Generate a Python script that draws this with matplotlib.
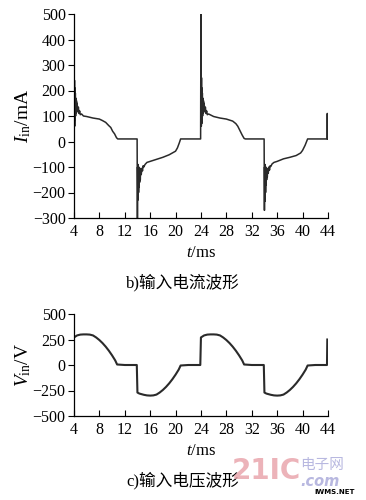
import matplotlib
matplotlib.use('Agg')
import matplotlib.pyplot as plt

# Input current waveform (ms, mA)
t_cur = [4.0, 4.03, 4.06, 4.09, 4.12, 4.15, 4.18, 4.22, 4.26, 4.3, 4.35, 4.4, 4.45,
         4.5, 4.6, 4.7, 4.8, 4.9, 5.0, 5.2,
         5.5, 6.0, 7.0, 8.0, 8.5, 9.0, 9.5, 9.8, 10.1, 10.4, 10.7, 10.9, 11.5,
         12.5, 13.5, 13.95,
         14.0, 14.03, 14.06, 14.09, 14.12, 14.15, 14.18, 14.22, 14.26, 14.3, 14.35,
         14.4, 14.45, 14.5, 14.6, 14.7, 14.8, 14.9, 15.0, 15.2,
         15.5, 16.0, 17.0, 18.0, 19.0, 19.5, 20.0, 20.3, 20.6, 20.8, 22.0, 23.95,
         24.0, 24.03, 24.06, 24.09, 24.12, 24.15, 24.18, 24.22, 24.26, 24.3, 24.35,
         24.4, 24.45, 24.5, 24.6, 24.7, 24.8, 24.9, 25.0, 25.2,
         26.0, 27.0, 28.0, 29.0, 29.5, 29.8, 30.2, 30.5, 30.8, 31.0, 33.95,
         34.0, 34.03, 34.06, 34.09, 34.12, 34.15, 34.18, 34.22, 34.26, 34.3, 34.35,
         34.4, 34.45, 34.5, 34.6, 34.7, 34.8, 34.9, 35.0, 35.2,
         35.5, 36.0, 37.0, 38.0, 39.0, 39.7, 40.0, 40.4, 40.8, 42.0, 43.85, 43.9,
         43.95]
i_cur = [160, 250, 80, 240, 60, 210, 90, 190, 100, 170, 110, 160, 115,
         150, 120, 135, 110, 120, 105, 108,
         100, 98, 92, 88, 82, 75, 62, 55, 40, 30, 15, 10, 10,
         10, 10, 10,
         -300, -100, -230, -90, -220, -110, -200, -100, -180, -110, -160,
         -105, -150, -110, -130, -105, -115, -95, -100, -90,
         -82, -78, -70, -62, -52, -45, -38, -25, -5, 10, 10, 10,
         500, 250, 60, 250, 70, 210, 90, 190, 100, 170, 110, 160, 115,
         150, 120, 135, 110, 120, 105, 108,
         98, 92, 88, 80, 70, 60, 40, 25, 12, 10, 10,
         -270, -100, -235, -90, -220, -110, -200, -100, -170, -110, -150,
         -105, -140, -110, -125, -100, -112, -95, -98, -88,
         -82, -78, -68, -62, -55, -45, -35, -15, 10, 10, 10, 110,
         10]

# Input voltage waveform (ms, V)
t_volt = [4.0, 4.5, 5.0, 5.5, 6.0, 6.5, 7.0, 7.5, 8.0, 8.5, 9.0, 9.5, 10.0, 10.5,
          10.8, 12.0, 13.9, 14.0, 14.3, 15.0, 15.5, 16.0, 16.5, 17.0, 17.5, 18.0,
          18.5, 19.0, 19.5, 20.0, 20.5, 20.8, 22.0, 23.9,
          24.0, 24.5, 25.0, 25.5, 26.0, 26.5, 27.0, 27.5, 28.0, 28.5, 29.0, 29.5,
          30.0, 30.5, 30.8, 32.0, 33.9, 34.0, 34.3, 35.0, 35.5, 36.0, 36.5, 37.0,
          37.5, 38.0, 38.5, 39.0, 39.5, 40.0, 40.5, 40.8, 42.0, 43.85, 43.9]
v_volt = [270, 290, 298, 300, 300, 298, 290, 270, 245, 215, 180, 140, 95, 45,
          5, 0, 0, -270, -280, -292, -298, -300, -298, -290, -270, -245,
          -215, -180, -140, -95, -45, -5, 0, 0,
          270, 290, 298, 300, 300, 298, 290, 270, 245, 215, 180, 140,
          95, 45, 5, 0, 0, -270, -280, -292, -298, -300, -298, -290,
          -270, -245, -215, -180, -140, -95, -45, -5, 0, 0, 250]

xticks = list(range(4, 45, 4))
yticks_cur = [-300, -200, -100, 0, 100, 200, 300, 400, 500]
yticks_volt = [-500, -250, 0, 250, 500]

plt.rcParams['font.family'] = ['Liberation Serif', 'Noto Sans CJK SC']
plt.rcParams['mathtext.fontset'] = 'custom'
plt.rcParams['mathtext.rm'] = 'Liberation Serif'
plt.rcParams['mathtext.it'] = 'Liberation Serif:italic'

fig = plt.figure(figsize=(3.66, 5.0), dpi=100)


def style(ax, yticks):
    for s in ['top', 'right']:
        ax.spines[s].set_visible(False)
    for s in ['left', 'bottom']:
        ax.spines[s].set_linewidth(0.9)
    ax.set_xlim(4, 44)
    ax.set_ylim(yticks[0], yticks[-1])
    ax.set_xticks(xticks)
    ax.set_yticks(yticks)
    ax.tick_params(axis='x', direction='in', length=4, width=0.8, labelsize=11.5, pad=4)
    ax.tick_params(axis='y', direction='out', length=4, width=0.8, labelsize=11.5, pad=2)
    ax.set_xlabel(r'$t$/ms', fontsize=12, labelpad=4)


ax1 = fig.add_axes([0.202, 0.564, 0.694, 0.408])
ax1.plot(t_cur, i_cur, color='#2a2a2a', lw=1.1)
style(ax1, yticks_cur)
ax1.set_ylabel(r'$I_{\rm in}$/mA', fontsize=14, labelpad=0)

ax2 = fig.add_axes([0.202, 0.168, 0.694, 0.204])
ax2.plot(t_volt, v_volt, color='#2a2a2a', lw=1.5)
style(ax2, yticks_volt)
ax2.set_ylabel(r'$V_{\rm in}$/V', fontsize=14, labelpad=0)

fig.text(0.5, 1 - 283 / 500, 'b)输入电流波形', ha='center', va='center', fontsize=12)
fig.text(0.5, 1 - 481 / 500, 'c)输入电压波形', ha='center', va='center', fontsize=12)

# watermark
fig.text(0.632, 1 - 471 / 500, '21IC', color='#e8a0a8', fontsize=20, fontweight='bold',
         ha='left', va='center', family='DejaVu Sans', alpha=0.8)
fig.text(0.82, 1 - 465 / 500, '电子网', color='#b8b8e0', fontsize=10.5,
         ha='left', va='center', family='Noto Sans CJK SC')
fig.text(0.82, 1 - 481 / 500, '.com', color='#b8b8e0', fontsize=10.5, style='italic',
         ha='left', va='center', family='DejaVu Sans', fontweight='bold')
fig.text(0.86, 1 - 492 / 500, 'IWMS.NET', color='black', fontsize=5,
         ha='left', va='center', family='DejaVu Sans', fontweight='bold')

fig.savefig('out.png', dpi=100)
